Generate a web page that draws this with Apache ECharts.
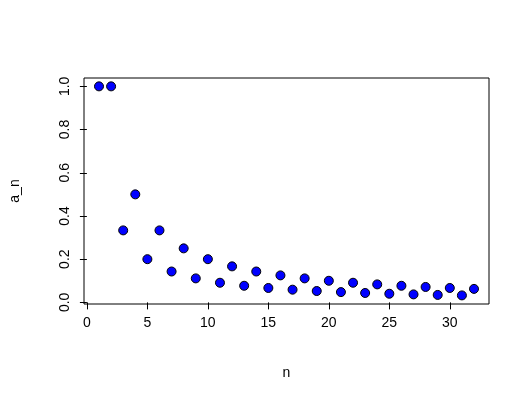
<!DOCTYPE html>
<html><head><meta charset="utf-8">
<script src="https://cdn.jsdelivr.net/npm/echarts@6/dist/echarts.min.js"></script>
<style>html,body{margin:0;background:#fff}#c{width:530px;height:403px}</style>
</head><body><div id="c"></div>
<script>
const n = [1,2,3,4,5,6,7,8,9,10,11,12,13,14,15,16,17,18,19,20,21,22,23,24,25,26,27,28,29,30,31,32];
const an = [1,1,0.3333,0.5,0.2,0.3333,0.1429,0.25,0.1111,0.2,0.0909,0.1667,0.0769,0.1429,0.0667,0.125,
  0.0588,0.1111,0.0526,0.1,0.0476,0.0909,0.0435,0.0833,0.04,0.0769,0.037,0.0714,0.0345,0.0667,0.0323,0.0625];
const xTicks = [0,5,10,15,20,25,30];
const yTicks = [0,0.2,0.4,0.6,0.8,1.0];

const chart = echarts.init(document.getElementById('c'));
const font = 'Liberation Sans, Arial, sans-serif';
chart.setOption({
  animation: false,
  grid: {left: 78, right: 41, top: 78, bottom: 99, show: true, borderColor: '#000', borderWidth: 1},
  xAxis: {
    type: 'value', scale: true, min: () => -0.24, max: () => 33.24,
    name: 'n', nameLocation: 'middle', nameGap: 62,
    nameTextStyle: {fontFamily: font, fontSize: 14, color: '#000'},
    splitLine: {show: false},
    axisLine: {show: false},
    axisTick: {show: true, length: 7, customValues: xTicks, lineStyle: {color: '#000'}},
    axisLabel: {customValues: xTicks, fontFamily: font, fontSize: 14, color: '#000', margin: 12,
      formatter: v => String(v)}
  },
  yAxis: {
    type: 'value', scale: true, min: () => -0.0075, max: () => 1.0387,
    name: 'a_n', nameLocation: 'middle', nameGap: 62, nameRotate: 90,
    nameTextStyle: {fontFamily: font, fontSize: 14, color: '#000'},
    splitLine: {show: false},
    axisLine: {show: false},
    axisTick: {show: true, length: 7, customValues: yTicks, lineStyle: {color: '#000'}},
    axisLabel: {customValues: yTicks, rotate: 90, fontFamily: font, fontSize: 14, color: '#000', margin: 12,
      formatter: v => v.toFixed(1)}
  },
  series: [{
    type: 'scatter',
    data: n.map((x, i) => [x, an[i]]),
    symbolSize: 9,
    itemStyle: {color: '#0000ff', opacity: 1, borderColor: '#000', borderWidth: 1}
  }]
});
</script></body></html>
